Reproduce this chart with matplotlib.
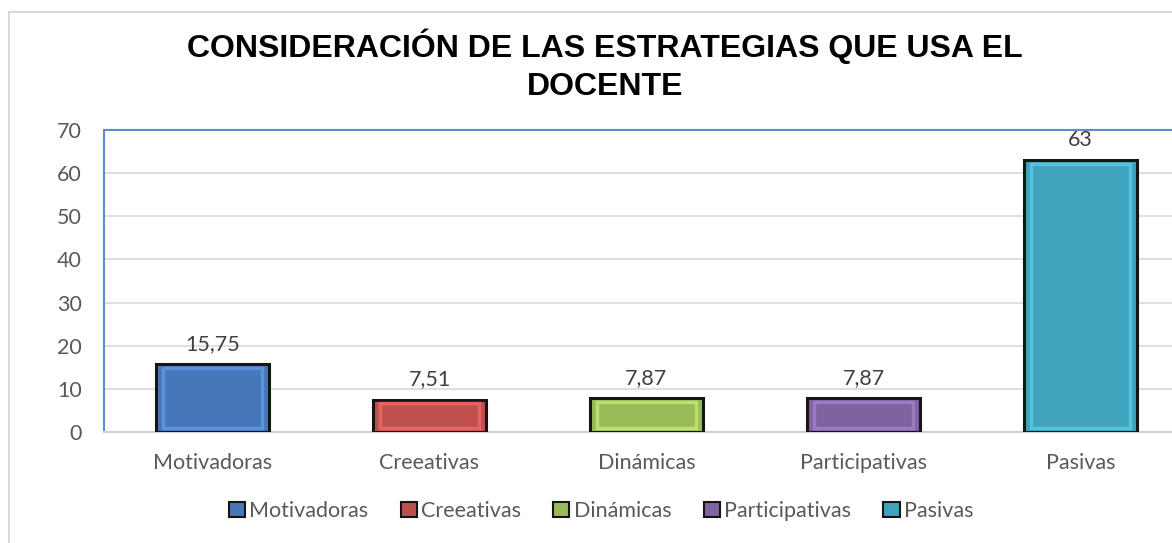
import matplotlib
matplotlib.use("Agg")
import matplotlib.pyplot as plt
from matplotlib.patches import Rectangle, Patch
import matplotlib.colors as mcolors

categories = ["Motivadoras", "Creeativas", "Dinámicas", "Participativas", "Pasivas"]
values = [15.75, 7.51, 7.87, 7.87, 63]
value_labels = ["15,75", "7,51", "7,87", "7,87", "63"]
colors = ["#4677b8", "#c0504d", "#9bbb59", "#7f63a1", "#3fa3bd"]
yticks = [0, 10, 20, 30, 40, 50, 60, 70]

W, H = 1172, 543
fig = plt.figure(figsize=(W / 100, H / 100), dpi=100)
fig.patch.set_facecolor("white")

font = ["Lato", "DejaVu Sans"]
txt_color = "#595959"
fs = 15.5

# outer chart border
fig.add_artist(Rectangle((9 / W, -0.1), 1.2, (H - 12) / H + 0.1,
                         transform=fig.transFigure, fill=False,
                         edgecolor="#d9d9d9", linewidth=1.5))

ax = fig.add_axes([104 / W, (H - 432) / H, 1085 / W, 302 / H])
x = list(range(len(categories)))
ax.bar(x, values, width=0.52, color=colors, edgecolor="#151515", linewidth=2.2, zorder=3)

# bevel highlight (inner lighter outline)
light = [mcolors.to_hex([min(1, c * 1.25 + 0.08) for c in mcolors.to_rgb(col)]) for col in colors]
inset = 0.9
ax.bar(x, [v - 2 * inset for v in values], bottom=inset, width=0.46, fill=False,
       edgecolor=light, linewidth=2.5, alpha=0.55, zorder=4)

ax.set_xlim(-0.5, len(categories) - 0.5)
ax.set_ylim(0, 70)
ax.set_yticks(yticks)
ax.set_yticklabels([str(t) for t in yticks], fontsize=fs, color=txt_color, family=font)
ax.set_xticks(x)
ax.set_xticklabels(categories, fontsize=fs, color=txt_color, family=font)
ax.tick_params(axis="both", length=0)
ax.tick_params(axis="y", pad=16)
ax.tick_params(axis="x", pad=15)
ax.grid(axis="y", color="#d9d9d9", linewidth=1.2, zorder=0)
ax.set_axisbelow(True)

for s in ["left", "top", "right"]:
    ax.spines[s].set_color("#5b8bd0")
    ax.spines[s].set_linewidth(1.5)
ax.spines["bottom"].set_color("#d0d0d0")
ax.spines["bottom"].set_linewidth(1.5)

for xi, v, lab in zip(x, values, value_labels):
    ax.annotate(lab, (xi, v), xytext=(0, 7.5), textcoords="offset points",
                ha="center", va="bottom", fontsize=fs, color="#404040", family=font,
                zorder=5)

fig.text(605 / W, (H - 65) / H, "CONSIDERACIÓN DE LAS ESTRATEGIAS QUE USA EL\nDOCENTE",
         ha="center", va="center", fontsize=23, fontweight="bold",
         family=["Liberation Sans", "DejaVu Sans"], color="black", linespacing=1.33)

handles = [Patch(facecolor=c, edgecolor="#151515", linewidth=1.5) for c in colors]
fig.legend(handles, categories, loc="center", bbox_to_anchor=(601 / W, (H - 511) / H),
           ncol=5, frameon=False, handlelength=0.75, handleheight=0.75,
           handletextpad=0.2, columnspacing=1.5,
           prop={"family": font, "size": fs}, labelcolor=txt_color)

fig.savefig("out.png", dpi=100)
